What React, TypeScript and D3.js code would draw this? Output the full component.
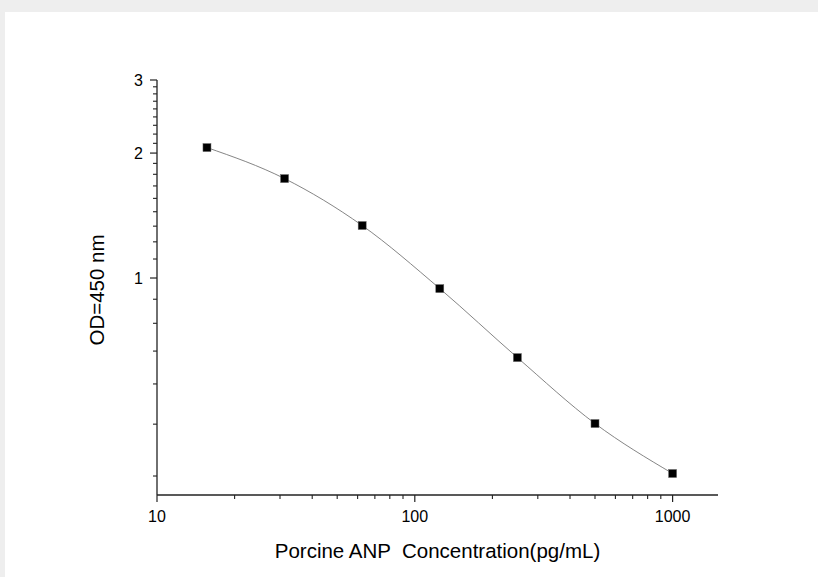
import React from "react";
import * as d3 from "d3";

const concentrations = [15.625, 31.25, 62.5, 125, 250, 500, 1000];
const odValues = [2.062, 1.736, 1.338, 0.943, 0.643, 0.446, 0.338];
const xTickLabels = [10, 100, 1000];
const yTickLabels = [1, 2, 3];
const xLabel = "Porcine ANP  Concentration(pg/mL)";
const yLabel = "OD=450 nm";

const W = 818;
const H = 577;
const M = { left: 157, right: 718, top: 80, bottom: 495 };

export default function App() {
  const x = d3.scaleLog().domain([10, 1500]).range([M.left, M.right]);
  const y = d3.scaleLog().domain([0.3, 3]).range([M.bottom, M.top]);

  const xMinor: number[] = [];
  for (const dec of [10, 100, 1000]) {
    for (let k = 2; k <= 9; k++) {
      const v = dec * k;
      if (v < 1500) xMinor.push(v);
    }
  }
  const yMinor: number[] = [];
  for (let base = 0; base < 3; base++) {
    for (let k = 1; k <= 8; k++) {
      const v = base + k / 9;
      if (v > 0.3 && v < 3) yMinor.push(v);
    }
  }

  const pts = concentrations.map((c, i) => [x(c), y(odValues[i])] as [number, number]);
  const line = d3.line().curve(d3.curveMonotoneX)(pts) || "";
  const font = "'Liberation Sans', Arial, sans-serif";

  return (
    <svg width={W} height={H} style={{ position: "fixed", left: 0, top: 0 }} fontFamily={font}>
      <rect x={0} y={0} width={W} height={H} fill="#eeeeee" />
      <rect x={5} y={12} width={W - 5} height={H - 12} fill="#ffffff" />
      <path d={line} fill="none" stroke="#777" strokeWidth={0.9} />
      {pts.map(([px, py], i) => (
        <rect key={i} x={px - 4} y={py - 4} width={8} height={8} fill="#000" stroke="#666" strokeWidth={0.5} />
      ))}
      <line x1={M.left} x2={M.right} y1={M.bottom} y2={M.bottom} stroke="#222" strokeWidth={1.3} />
      <line x1={M.left} x2={M.left} y1={M.top} y2={M.bottom} stroke="#222" strokeWidth={1.3} />
      {xTickLabels.map((t) => (
        <g key={"xt" + t}>
          <line x1={x(t)} x2={x(t)} y1={M.bottom} y2={M.bottom + 7} stroke="#222" strokeWidth={1.2} />
          <text x={x(t)} y={522} textAnchor="middle" fontSize={16} fill="#000">{t}</text>
        </g>
      ))}
      {xMinor.map((t) => (
        <line key={"xm" + t} x1={x(t)} x2={x(t)} y1={M.bottom} y2={M.bottom + 4} stroke="#222" strokeWidth={1.1} />
      ))}
      {yTickLabels.map((t) => (
        <g key={"yt" + t}>
          <line x1={M.left - 7} x2={M.left} y1={y(t)} y2={y(t)} stroke="#222" strokeWidth={1.2} />
          <text x={M.left - 14} y={y(t) + 5.5} textAnchor="end" fontSize={16} fill="#000">{t}</text>
        </g>
      ))}
      {yMinor.map((t) => (
        <line key={"ym" + t} x1={M.left - 4} x2={M.left} y1={y(t)} y2={y(t)} stroke="#222" strokeWidth={1.1} />
      ))}
      <text x={437.5} y={558} textAnchor="middle" fontSize={20.5} fill="#000" style={{ whiteSpace: "pre" }}>{xLabel}</text>
      <text transform={`translate(104,290) rotate(-90)`} textAnchor="middle" fontSize={20.5} fill="#000">{yLabel}</text>
    </svg>
  );
}
